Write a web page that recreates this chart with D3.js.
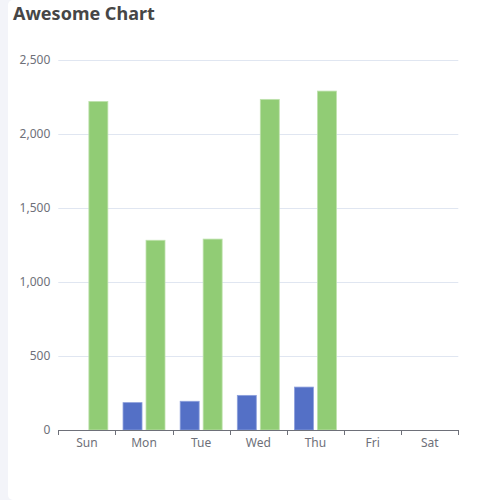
<!DOCTYPE html>
<html>
<head>
<meta charset="utf-8">
<script src="https://cdn.jsdelivr.net/npm/d3@7"></script>
<style>
  html, body { margin: 0; padding: 0; background: #f3f4f9; overflow: hidden; }
  #card { position: absolute; left: 8px; top: 0; width: 510px; height: 500px; background: #fff; border-radius: 5px; }
  svg { position: absolute; left: 0; top: 0; }
</style>
</head>
<body>
<div id="card"></div>
<svg id="chart" width="500" height="500"></svg>
<script>
const categories = ["Sun", "Mon", "Tue", "Wed", "Thu", "Fri", "Sat"];
const seriesA = [null, 185, 194, 234, 290, null, null];
const seriesB = [2220, 1282, 1290, 2234, 2290, null, null];
const yTicks = [0, 500, 1000, 1500, 2000, 2500];
const chartTitle = "Awesome Chart";

(function () {
const svg = d3.select("#chart");
const font = "'Noto Sans', 'Open Sans', sans-serif";
const pl = 58.3, pr = 458.3, pt = 60, pb = 430;

const x = d3.scaleBand().domain(categories).range([pl, pr]);
const y = d3.scaleLinear().domain([0, 2500]).range([pb, pt]);
const inner = d3.scaleBand().domain(["a", "b"]).range([0, x.bandwidth()]).paddingInner(0.174).paddingOuter(0.33);

svg.append("text").attr("x", 13).attr("y", 19.5).text(chartTitle)
  .attr("font-family", font).attr("font-weight", "bold").attr("font-size", 18).attr("fill", "#464646");

// grid
svg.append("g").selectAll("line").data(yTicks.filter(d => d > 0)).join("line")
  .attr("x1", pl).attr("x2", pr)
  .attr("y1", d => Math.round(y(d)) + 0.5).attr("y2", d => Math.round(y(d)) + 0.5)
  .attr("stroke", "#e0e6f1");

// y labels
const yAxis = d3.axisLeft(y).tickValues(yTicks).tickSize(0).tickPadding(8).tickFormat(d3.format(","));
const gy = svg.append("g").attr("transform", `translate(${pl},0)`).call(yAxis);
gy.select(".domain").remove();
gy.selectAll("text").attr("font-family", font).attr("font-size", 12).attr("fill", "#6e7079");

// bars
const bars = svg.append("g");
categories.forEach((c, i) => {
  [["a", seriesA[i], "#5470c6", "#8da0dc"], ["b", seriesB[i], "#91cc75", "#bfe2ad"]].forEach(([k, v, col, st]) => {
    if (v == null) return;
    bars.append("rect")
      .attr("x", x(c) + inner(k)).attr("width", inner.bandwidth())
      .attr("y", y(v)).attr("height", y(0) - y(v))
      .attr("fill", col).attr("stroke", st).attr("stroke-width", 0.8);
  });
});

// x axis
const xAxis = d3.axisBottom(x).tickSize(5).tickPadding(3).tickSizeOuter(5);
const gx = svg.append("g").attr("transform", `translate(0,${pb})`).call(xAxis);
gx.selectAll(".tick line").remove();
const bounds = categories.map(c => x(c)).concat([pr]);
gx.selectAll(".bnd").data(bounds).join("line").attr("class", "bnd")
  .attr("x1", d => Math.round(d) + 0.5).attr("x2", d => Math.round(d) + 0.5)
  .attr("y1", 0).attr("y2", 5).attr("stroke", "#6e7079");
gx.select(".domain").attr("stroke", "#6e7079").attr("d", `M${pl},0.5H${pr}`);
gx.selectAll("text").attr("font-family", font).attr("font-size", 12).attr("fill", "#6e7079");
})();
</script>
</body>
</html>
